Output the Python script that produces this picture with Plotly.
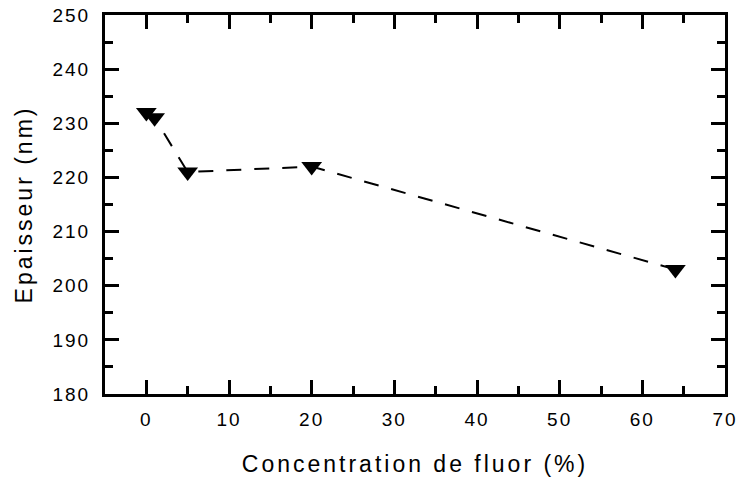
import plotly.graph_objects as go

concentration = [0, 1, 5, 20, 64]
epaisseur = [232, 231, 221, 222, 203]

fig = go.Figure()
fig.add_trace(go.Scatter(x=concentration, y=epaisseur, mode="lines+markers",
                         line=dict(color="black", width=2, dash="15px,13px"),
                         marker=dict(symbol="triangle-down", size=18, color="black"),
                         showlegend=False))

fnt = "Liberation Sans Narrow, Liberation Sans, Arial"
axis_common = dict(showline=True, linecolor="black", linewidth=3, mirror="allticks",
                   ticks="inside", ticklen=14, tickwidth=3, tickcolor="black",
                   showgrid=False, zeroline=False, automargin=False,
                   tickfont=dict(family=fnt, size=19, color="black"),
                   title_font=dict(family=fnt, size=23, color="black"))

fig.update_xaxes(range=[-5, 70], dtick=10, tick0=0, ticklabelstandoff=6,
                 minor=dict(ticks="inside", ticklen=8, tickwidth=3, tickcolor="black", dtick=5, tick0=0),
                 title_text="Concentration de fluor (%)", title_standoff=28, **axis_common)
fig.update_yaxes(range=[180, 250], dtick=10, ticklabelstandoff=8,
                 minor=dict(ticks="inside", ticklen=8, tickwidth=3, tickcolor="black", dtick=5),
                 title_text="Epaisseur (nm)", title_standoff=20, **axis_common)

fig.update_layout(width=736, height=481, plot_bgcolor="white", paper_bgcolor="white",
                  margin=dict(l=105, r=11, t=15, b=87))

# marge de page a zero + espacement des lettres comme dans l'original
script = """
document.body.style.margin='0';
document.body.style.overflow='hidden';
document.querySelectorAll('.xtick text, .ytick text').forEach(function(t){t.style.letterSpacing='2px';});
document.querySelectorAll('.xtitle, .ytitle').forEach(function(t){t.style.letterSpacing='3px';});
"""
fig.write_html("out.html", post_script=script, config={"displayModeBar": False})
